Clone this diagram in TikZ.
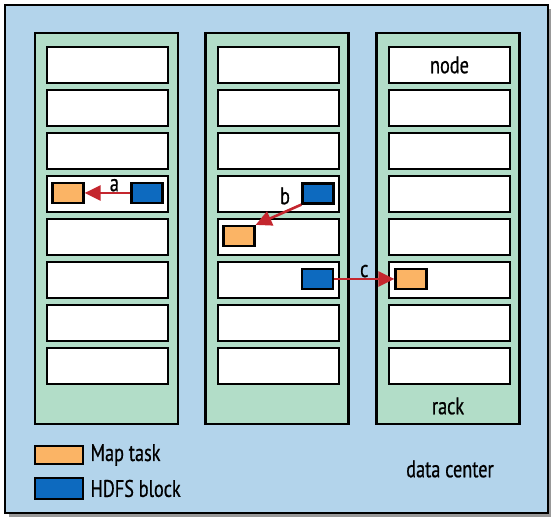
\documentclass[tikz,border=0pt]{standalone}
\usepackage{fontspec}
\setmainfont{PT Sans}[FakeStretch=0.76, FakeBold=0.6]
\usepackage{tikz}
\usetikzlibrary{
  arrows.meta
  , positioning
}
\definecolor{dcblue}{HTML}{B3D4EB}
\definecolor{rackgreen}{HTML}{B2DDC8}
\definecolor{taskorange}{HTML}{FBB465}
\definecolor{blockblue}{HTML}{0D6ABF}
\definecolor{moved}{HTML}{C4262E}

\begin{document}
\begin{tikzpicture}[x=1pt, y=-1pt,
    font=\fontsize{24}{27}\selectfont,
    rackbox/.style={draw=black, line width=2.2pt, fill=rackgreen,
      minimum width=143pt, minimum height=391pt, inner sep=0pt},
    server/.style={draw=black, line width=2.8pt, fill=white,
      minimum width=121pt, minimum height=36pt, inner sep=0pt},
    chunk/.style={draw=black, line width=2.2pt,
      minimum width=31pt, minimum height=20pt, inner sep=0pt},
    maptask/.style={chunk, fill=taskorange},
    hdfsblock/.style={chunk, fill=blockblue},
    transfer/.style={draw=moved, line width=2.6pt,
      -{Triangle[length=16pt, width=15pt]}}]
  \useasboundingbox (0,0) rectangle (558,526);

  % data center
  \fill [black!40] (9,9) rectangle (551,517);
  \draw [line width=2.6pt, fill=dcblue] (5,5) rectangle (548,513);

  % racks and their nodes
  \foreach \r/\x/\nx in {1/106.5/107.5, 2/277/278.5, 3/448/449.5} {
    \node [rackbox] (rack\r) at (\x,228.5) {};
    \foreach \i in {1,...,8}
      \node [server] (n\r-\i) at (\nx,{65+43*(\i-1)}) {};
  }
  \node at (n3-1) {node};
  \node at (448,406) {rack};
  \node at (450,469) {data center};

  % a: same node
  \node [maptask] (ta) at (68,193) {};
  \node [hdfsblock] (ba) at (147,193) {};
  \draw [transfer] (ba) -- node [pos=0.35, above, yshift=-3pt] {a} (ta);

  % b: same rack
  \node [hdfsblock] (bb) at (318,193.5) {};
  \node [maptask] (tb) at (239,236) {};
  \draw [transfer] (bb.south west) -- (tb.north east);
  \node at (285,196) {b};

  % c: other rack
  \node [hdfsblock] (bc) at (317.5,279) {};
  \node [maptask] (tc) at (411,279) {};
  \draw [transfer] (bc) -- node [above, yshift=-3pt] {c} (tc);

  % legend
  \node [maptask, minimum width=48pt, minimum height=18pt] (lt) at (59,455) {};
  \node [right=3pt of lt] {Map task};
  \node [hdfsblock, minimum width=48pt, minimum height=21pt] (lb) at (59,488.5) {};
  \node [right=3pt of lb] {HDFS block};
\end{tikzpicture}
\end{document}
